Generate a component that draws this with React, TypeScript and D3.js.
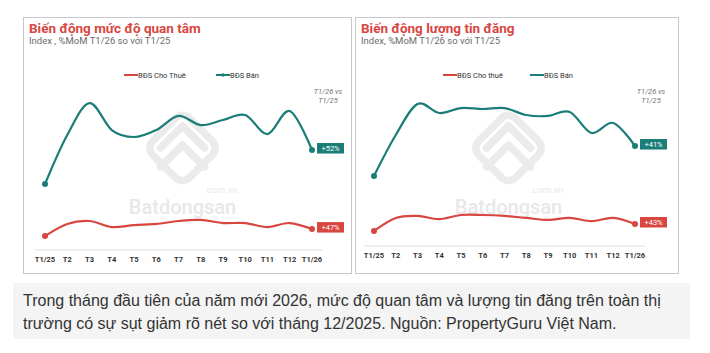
import * as d3 from "d3";
import { useEffect, useRef } from "react";

// months on the x axis
const months = ["T1/25", "T2", "T3", "T4", "T5", "T6", "T7", "T8", "T9", "T10", "T11", "T12", "T1/26"];

// index values (0-100 scale)
const interestRent = [9.0, 16.8, 18.7, 14.8, 16.1, 16.8, 18.7, 19.4, 17.4, 17.4, 14.8, 17.4, 13.5];
const interestSale = [42.6, 74.2, 94.8, 77.4, 72.9, 77.4, 86.5, 80.6, 83.9, 87.1, 74.8, 89.7, 64.5];
const listingRent = [9.7, 18.1, 19.4, 17.4, 20.0, 20.0, 19.4, 18.1, 16.8, 18.1, 16.1, 18.1, 14.2];
const listingSale = [45.2, 71.6, 91.6, 85.8, 89.0, 88.4, 89.0, 84.5, 83.9, 86.5, 72.9, 79.4, 64.5];

const RED = "#d8463f";
const TEAL = "#1a7d78";
const FONT = "Roboto, 'Noto Sans', sans-serif";

const panels = [
    {
        box: [23, 17, 328, 256],
        title: "Biến động mức độ quan tâm",
        sub: "Index , %MoM T1/26 so với T1/25",
        rentLabel: "BĐS Cho Thuê",
        saleLabel: "BĐS Bán",
        rent: interestRent,
        sale: interestSale,
        rentBadge: "+47%",
        saleBadge: "+52%",
        xr: [45, 312],
        axisY: 250,
        legend: [124, 216],
        saleMarker: true,
    },
    {
        box: [355, 17, 323, 256],
        title: "Biến động lượng tin đăng",
        sub: "Index, %MoM T1/26 so với T1/25",
        rentLabel: "BĐS Cho thuê",
        saleLabel: "BĐS Bán",
        rent: listingRent,
        sale: listingSale,
        rentBadge: "+43%",
        saleBadge: "+41%",
        xr: [374, 635],
        axisY: 246,
        legend: [443, 530],
        saleMarker: false,
    },
];

function drawPanel(svg, p) {
    const [bx, by, bw, bh] = p.box;
    const g = svg.append("g");

    g.append("rect")
        .attr("x", bx + 0.5)
        .attr("y", by + 0.5)
        .attr("width", bw)
        .attr("height", bh)
        .attr("fill", "#fff")
        .attr("stroke", "#c9c9c9");

    g.append("text")
        .attr("x", bx + 6)
        .attr("y", by + 16)
        .attr("fill", RED)
        .style("font", `bold 13.5px ${FONT}`)
        .text(p.title);

    g.append("text")
        .attr("x", bx + 6)
        .attr("y", by + 27)
        .attr("fill", "#6b6b6b")
        .style("font", `9.5px ${FONT}`)
        .text(p.sub);

    // legend
    const ly = 75;
    const [lr, ls] = p.legend;
    g.append("line").attr("x1", lr).attr("x2", lr + 14).attr("y1", ly).attr("y2", ly)
        .attr("stroke", RED).attr("stroke-width", 2);
    g.append("text").attr("x", lr + 14).attr("y", ly + 2.5).attr("fill", "#333")
        .style("font", `7.5px ${FONT}`).text(p.rentLabel);
    g.append("line").attr("x1", ls).attr("x2", ls + 14).attr("y1", ly).attr("y2", ly)
        .attr("stroke", TEAL).attr("stroke-width", 2);
    if (p.saleMarker) {
        g.append("circle").attr("cx", ls + 7).attr("cy", ly).attr("r", 1.8).attr("fill", TEAL);
    }
    g.append("text").attr("x", ls + 14).attr("y", ly + 2.5).attr("fill", "#333")
        .style("font", `7.5px ${FONT}`).text(p.saleLabel);

    const x = d3.scalePoint().domain(months).range(p.xr);
    const y = d3.scaleLinear().domain([0, 100]).range([p.axisY, p.axisY - 155]);

    // watermark
    const cx = (p.xr[0] + p.xr[1]) / 2 + 4;
    const wm = g.append("g").attr("fill", "none").attr("stroke", "#ebebeb")
        .attr("stroke-width", 7.5).attr("stroke-linejoin", "round").attr("stroke-linecap", "round");
    wm.append("rect")
        .attr("x", -26).attr("y", -26).attr("width", 52).attr("height", 52).attr("rx", 10)
        .attr("transform", `translate(${cx},${148}) rotate(45)`);
    wm.append("path")
        .attr("d", `M${cx - 22},${148} L${cx},${126} L${cx + 22},${148}`);
    wm.append("path")
        .attr("d", `M${cx - 22},${167} L${cx},${145} L${cx + 22},${167}`);
    g.append("text").attr("x", cx).attr("y", 214).attr("text-anchor", "middle")
        .attr("fill", "#e8e8e8").style("font", `500 20px ${FONT}`).text("Batdongsan");
    g.append("text").attr("x", cx + 55).attr("y", 193).attr("text-anchor", "end")
        .attr("fill", "#e8e8e8").style("font", `9.5px ${FONT}`).text(".com.vn");

    // axis
    g.append("line")
        .attr("x1", p.xr[0] - 10).attr("x2", p.xr[1] + 10)
        .attr("y1", p.axisY).attr("y2", p.axisY)
        .attr("stroke", "#dedede");
    g.selectAll(".tick")
        .data(months)
        .enter()
        .append("text")
        .attr("x", d => x(d))
        .attr("y", p.axisY + 12)
        .attr("text-anchor", "middle")
        .attr("fill", "#333")
        .style("font", `bold 7.5px ${FONT}`)
        .text(d => d);

    const line = d3.line()
        .x((d, i) => x(months[i]))
        .y(d => y(d))
        .curve(d3.curveCardinal.tension(0));

    const series = [
        { vals: p.sale, color: TEAL, badge: p.saleBadge },
        { vals: p.rent, color: RED, badge: p.rentBadge },
    ];
    series.forEach(s => {
        g.append("path")
            .attr("d", line(s.vals))
            .attr("fill", "none")
            .attr("stroke", s.color)
            .attr("stroke-width", 2.2);
        [0, s.vals.length - 1].forEach(i => {
            g.append("circle")
                .attr("cx", x(months[i]))
                .attr("cy", y(s.vals[i]))
                .attr("r", 3)
                .attr("fill", s.color);
        });
        const last = s.vals[s.vals.length - 1];
        const bxL = x(months[months.length - 1]) + 5;
        g.append("rect")
            .attr("x", bxL).attr("y", y(last) - 7)
            .attr("width", 27).attr("height", 10.5)
            .attr("fill", s.color);
        g.append("text")
            .attr("x", bxL + 13.5).attr("y", y(last) + 1)
            .attr("text-anchor", "middle")
            .attr("fill", "#fff")
            .style("font", `7.5px ${FONT}`)
            .text(s.badge);
    });

    // note
    const nx = p.xr[1] + 16;
    g.append("text").attr("x", nx).attr("y", 94).attr("text-anchor", "middle")
        .attr("fill", "#777").style("font", `italic 7.5px ${FONT}`).text("T1/26 vs");
    g.append("text").attr("x", nx).attr("y", 103).attr("text-anchor", "middle")
        .attr("fill", "#777").style("font", `italic 7.5px ${FONT}`).text("T1/25");
}

export default function App() {
    const ref = useRef(null);

    useEffect(() => {
        const svg = d3.select(ref.current);
        svg.selectAll("*").remove();
        svg.append("rect").attr("width", 710).attr("height", 353).attr("fill", "#fff");

        panels.forEach(p => drawPanel(svg, p));

        // caption
        svg.append("rect")
            .attr("x", 13).attr("y", 283).attr("width", 677).attr("height", 56)
            .attr("fill", "#f4f4f4");
        const cap = svg.append("text")
            .attr("fill", "#333")
            .style("font", "16px 'Liberation Sans', Arial, sans-serif");
        cap.append("tspan").attr("x", 23).attr("y", 306)
            .text("Trong tháng đầu tiên của năm mới 2026, mức độ quan tâm và lượng tin đăng trên toàn thị");
        cap.append("tspan").attr("x", 23).attr("y", 329)
            .text("trường có sự sụt giảm rõ nét so với tháng 12/2025. Nguồn: PropertyGuru Việt Nam.");
    }, []);

    return (
        <div style={{ position: "fixed", left: 0, top: 0 }}>
            <svg ref={ref} width={710} height={353} style={{ display: "block" }} />
        </div>
    );
}
